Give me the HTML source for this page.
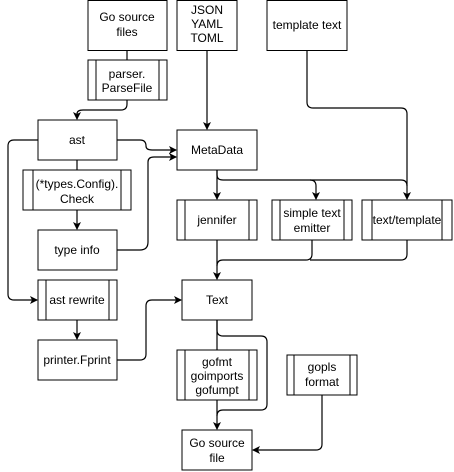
<!DOCTYPE html>
<html><head><style>body{margin:0;background:#fff}svg{display:block}text{font-family:"Liberation Sans",Arial,sans-serif;font-size:12px;fill:#000;text-anchor:middle}</style></head><body>
<svg width="454" height="472" viewBox="0 0 454 472">
<defs><marker id="a" markerWidth="8" markerHeight="8" refX="7" refY="4" orient="auto" markerUnits="userSpaceOnUse"><path d="M0,0 L8,4 L0,8 L2,4 Z" fill="#000"/></marker></defs>
<g fill="#fff" stroke="#000" stroke-width="1">
<rect x="88" y="0.5" width="79" height="50"/>
<rect x="177" y="0.5" width="60" height="50"/>
<rect x="267" y="0.5" width="80" height="50"/>
<rect x="88" y="60" width="79" height="40"/><line x1="96" y1="60" x2="96" y2="100"/><line x1="159" y1="60" x2="159" y2="100"/>
<rect x="38" y="120" width="79" height="40"/>
<rect x="23" y="170" width="108" height="40"/><line x1="33" y1="170" x2="33" y2="210"/><line x1="121" y1="170" x2="121" y2="210"/>
<rect x="38" y="230" width="79" height="40"/>
<rect x="38" y="280" width="79" height="40"/><line x1="46" y1="280" x2="46" y2="320"/><line x1="109" y1="280" x2="109" y2="320"/>
<rect x="38" y="340" width="79" height="40"/>
<rect x="177" y="130" width="80" height="40"/>
<rect x="177" y="200" width="80" height="40"/><line x1="185" y1="200" x2="185" y2="240"/><line x1="249" y1="200" x2="249" y2="240"/>
<rect x="272" y="200" width="80" height="40"/><line x1="280" y1="200" x2="280" y2="240"/><line x1="344" y1="200" x2="344" y2="240"/>
<rect x="362" y="200" width="90" height="40"/><line x1="372" y1="200" x2="372" y2="240"/><line x1="442" y1="200" x2="442" y2="240"/>
<rect x="182" y="280" width="70" height="40"/>
<rect x="177" y="350" width="80" height="50"/><line x1="185" y1="350" x2="185" y2="400"/><line x1="249" y1="350" x2="249" y2="400"/>
<rect x="287" y="355" width="70" height="40"/><line x1="294" y1="355" x2="294" y2="395"/><line x1="350" y1="355" x2="350" y2="395"/>
<rect x="182" y="430" width="70" height="40"/>
</g>
<g fill="none" stroke="#000" stroke-width="1.2">
<line x1="127" y1="50" x2="127" y2="60"/>
<path d="M127,100 V104 Q127,110 121,110 H83 Q77,110 77,114 V119" marker-end="url(#a)"/>
<path d="M207,50 V129" marker-end="url(#a)"/>
<path d="M117,140 H140 Q146,140 146,146 Q146,150 152,150 H176" marker-end="url(#a)"/>
<path d="M117,250 H140 Q148,250 148,242 V162 Q148,157 154,157 H176" marker-end="url(#a)"/>
<line x1="77" y1="160" x2="77" y2="170"/>
<path d="M77,210 V229" marker-end="url(#a)"/>
<path d="M38,140 H14 Q8,140 8,146 V294 Q8,300 14,300 H37" marker-end="url(#a)"/>
<path d="M77,320 V339" marker-end="url(#a)"/>
<path d="M117,360 H140 Q146,360 146,354 V306 Q146,300 152,300 H181" marker-end="url(#a)"/>
<path d="M217,170 V199" marker-end="url(#a)"/>
<path d="M217,170 V175 Q217,180 223,180 H310 Q316,180 316,186 V199" marker-end="url(#a)"/>
<path d="M310,180 H401 Q407,180 407,186 V199" marker-end="url(#a)"/>
<path d="M307,50 V102 Q307,108 313,108 H401 Q407,108 407,114 V186"/>
<path d="M217,240 V279" marker-end="url(#a)"/>
<path d="M312,240 V254 Q312,260 306,260 H223 Q217,260 217,266"/>
<path d="M407,240 V254 Q407,260 401,260 H310"/>
<line x1="217" y1="320" x2="217" y2="350"/>
<path d="M217,320 V330 Q217,336 223,336 H261 Q267,336 267,342 V404 Q267,410 261,410 H223 Q217,410 217,416"/>
<path d="M217,400 V429" marker-end="url(#a)"/>
<path d="M322,395 V444 Q322,450 316,450 H253" marker-end="url(#a)"/>
</g>
<text x="127" y="21">Go source</text><text x="127" y="36">files</text>
<text x="207" y="14">JSON</text><text x="207" y="28">YAML</text><text x="207" y="42">TOML</text>
<text x="307" y="29">template text</text>
<text x="127" y="78">parser.</text><text x="127" y="92">ParseFile</text>
<text x="77" y="144">ast</text>
<text x="77" y="188">(*types.Config).</text><text x="77" y="203">Check</text>
<text x="77" y="254">type info</text>
<text x="77" y="304">ast rewrite</text>
<text x="77" y="364">printer.Fprint</text>
<text x="217" y="154">MetaData</text>
<text x="217" y="224">jennifer</text>
<text x="312" y="217">simple text</text><text x="312" y="232">emitter</text>
<text x="407" y="224">text/template</text>
<text x="217" y="304">Text</text>
<text x="217" y="366">gofmt</text><text x="217" y="380">goimports</text><text x="217" y="394">gofumpt</text>
<text x="322" y="371">gopls</text><text x="322" y="386">format</text>
<text x="217" y="447">Go source</text><text x="217" y="462">file</text>
</svg>
</body></html>
